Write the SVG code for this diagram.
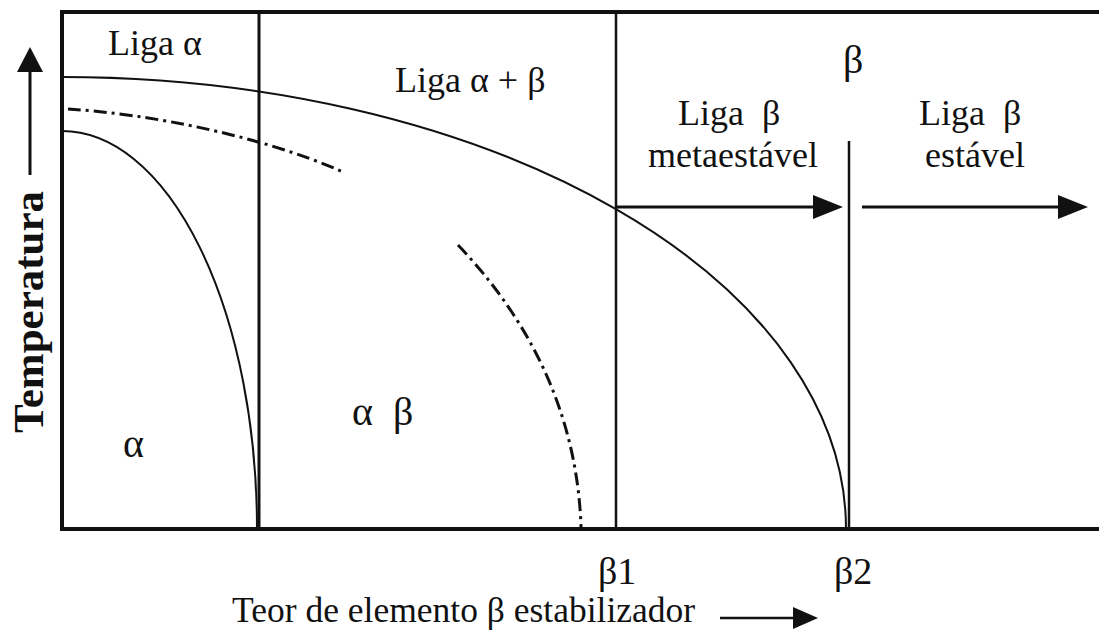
<svg xmlns="http://www.w3.org/2000/svg" width="1099" height="630" viewBox="0 0 1099 630">
<style>
.lbl{font-family:"Liberation Serif","Times New Roman",serif;font-size:36px;fill:#111;}
.big{font-size:40px;}
.sub{font-size:38px;}
.ln{fill:none;stroke:#111;}
.dd{fill:none;stroke:#111;stroke-width:3;stroke-dasharray:13 5 3 5;}
</style>
<rect width="1099" height="630" fill="#fff"/>
<g id="frame">
<path class="ln" d="M1099,12 H62 V529 H1099" stroke-width="4"/>
<line class="ln" x1="259" y1="12" x2="259" y2="529" stroke-width="3"/>
<line class="ln" x1="616" y1="12" x2="616" y2="529" stroke-width="2.5"/>
<line class="ln" x1="849" y1="141" x2="849" y2="529" stroke-width="2.5"/>
</g>
<g id="curves">
<path class="ln" stroke-width="2" d="M62,77 A784,452 0 0 1 846,529"/>
<path class="ln" stroke-width="2" d="M62,131 A195,398 0 0 1 257,529"/>
<path class="dd" d="M68,109 C150,114 262,136 343,172"/>
<path class="dd" d="M458,245 C522,312 577,405 581,527"/>
</g>
<g id="connectors">
<line class="ln" x1="616" y1="207" x2="816" y2="207" stroke-width="3"/>
<polygon points="843,207 813,195 813,219" fill="#111"/>
<line class="ln" x1="862" y1="207" x2="1061" y2="207" stroke-width="3"/>
<polygon points="1088,207 1058,195 1058,219" fill="#111"/>
<line class="ln" x1="30" y1="175" x2="30" y2="70" stroke-width="3"/>
<polygon points="30,47 17,72 43,72" fill="#111"/>
<line class="ln" x1="720" y1="618" x2="796" y2="618" stroke-width="2.5"/>
<polygon points="818,618 793,607 793,629" fill="#111"/>
</g>
<g id="labels">
<text class="lbl" x="108" y="55">Liga α</text>
<text class="lbl" x="395" y="92">Liga α + β</text>
<text class="lbl big" x="843" y="73">β</text>
<text class="lbl" x="678" y="125" xml:space="preserve">Liga  β</text>
<text class="lbl" x="648" y="167">metaestável</text>
<text class="lbl" x="919" y="125" xml:space="preserve">Liga  β</text>
<text class="lbl" x="925" y="167">estável</text>
<text class="lbl big" x="123" y="457">α</text>
<text class="lbl big" x="352" y="425" xml:space="preserve">α  β</text>
<text class="lbl sub" x="598" y="584">β1</text>
<text class="lbl sub" x="834" y="584">β2</text>
<text class="lbl" x="232" y="622" style="font-size:35.5px">Teor de elemento β estabilizador</text>
<text class="lbl" transform="translate(43,433) rotate(-90)" style="font-size:43px;font-weight:bold">Temperatura</text>
</g>
</svg>
